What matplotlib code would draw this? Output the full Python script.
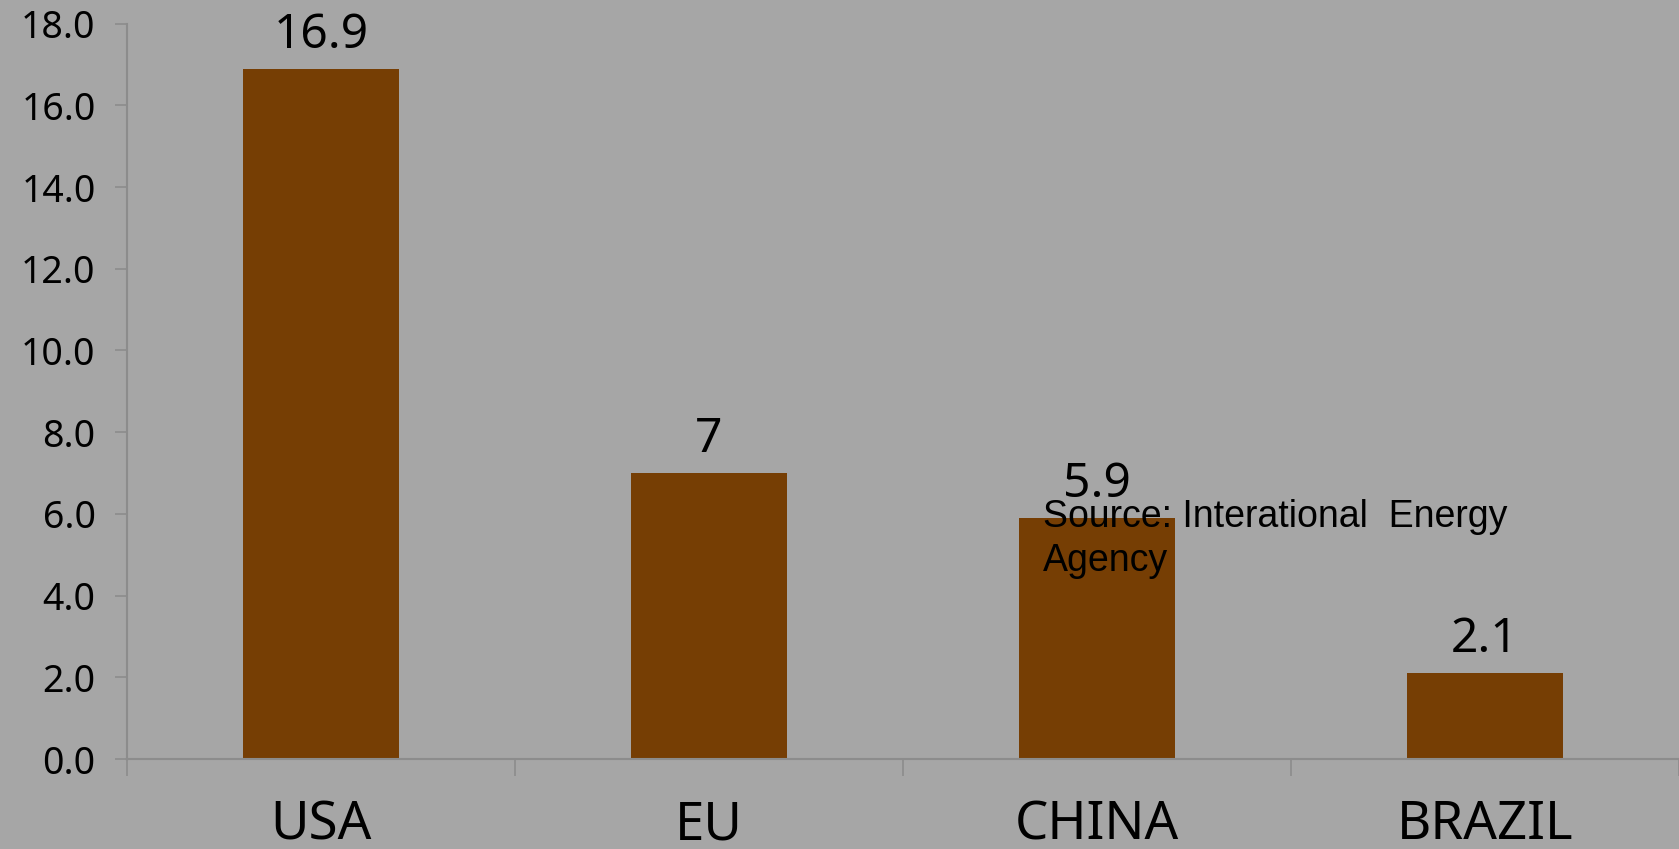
import matplotlib
matplotlib.use("Agg")
import matplotlib.pyplot as plt
import numpy as np

categories = ["USA", "EU", "CHINA", "BRAZIL"]
values = [16.9, 7, 5.9, 2.1]
value_labels = ["16.9", "7", "5.9", "2.1"]
yticks = [0, 2, 4, 6, 8, 10, 12, 14, 16, 18]
source_text = "Source: Interational  Energy\nAgency"

BG = "#a6a6a6"
BAR = "#763e04"
SPINE = "#8c8c8c"

W, H = 1679, 849
fig = plt.figure(figsize=(W / 100, H / 100), dpi=100, facecolor=BG)
ax = fig.add_axes([127 / W, 90 / H, 1 - 127 / W, (759 - 23.6) / H])
ax.set_facecolor(BG)

x = np.arange(len(categories))
ax.bar(x, values, width=0.4, color=BAR, zorder=2)

ax.set_xlim(-0.5, len(categories) - 0.5)
ax.set_ylim(0, 18)
ax.set_yticks(yticks)
ax.set_yticklabels([f"{v:.1f}" for v in yticks], fontsize=27, family="Noto Sans")
ax.set_xticks(x)
ax.set_xticklabels(categories, fontsize=38, family="Noto Sans")
ax.set_xticks(np.arange(len(categories) + 1) - 0.5, minor=True)

ax.tick_params(axis="y", length=8.6, width=1.2, color=SPINE, pad=14)
ax.tick_params(axis="x", which="major", length=0, pad=29)
ax.tick_params(axis="x", which="minor", length=12, width=1.2, color=SPINE)

for s in ["top", "right"]:
    ax.spines[s].set_visible(False)
for s in ["left", "bottom"]:
    ax.spines[s].set_color(SPINE)
    ax.spines[s].set_linewidth(1.5)

for xi, v, lab in zip(x, values, value_labels):
    ax.annotate(lab, (xi, v), xytext=(0, 15), textcoords="offset points",
                ha="center", va="baseline", fontsize=34.5, family="Noto Sans")

fig.text(1043 / W, 1 - 499 / H, source_text, ha="left", va="top",
         fontsize=27, family="Liberation Sans", linespacing=1.27)

fig.savefig("out.png", dpi=100, facecolor=BG)
